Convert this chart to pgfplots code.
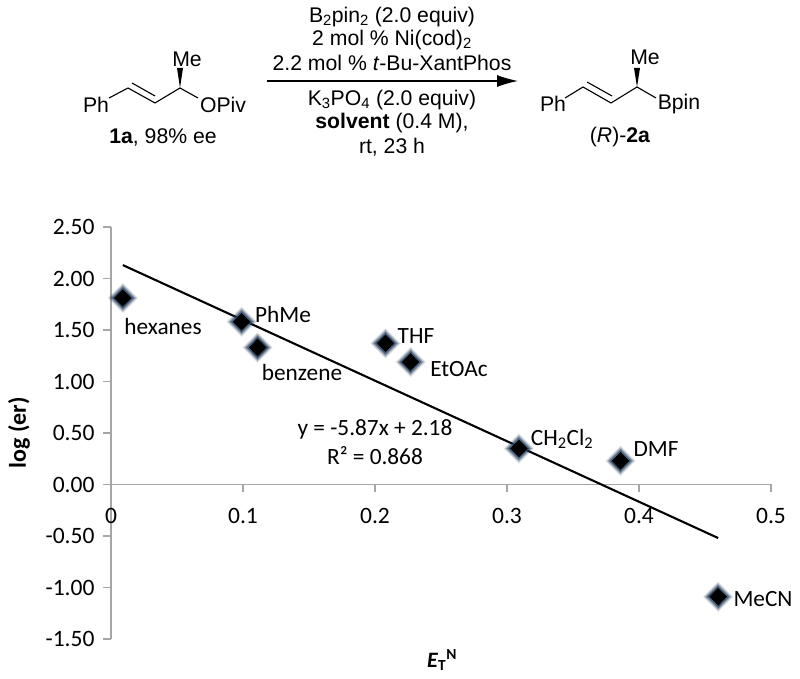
\documentclass[border=0pt]{standalone}
\usepackage{fontspec}
\setmainfont{Carlito}
\newfontfamily\hel{Liberation Sans}
\usepackage{pgfplots}
\pgfplotsset{compat=1.18}
\usetikzlibrary{arrows.meta}
\definecolor{axgray}{RGB}{166,166,166}
\definecolor{glow}{RGB}{60,100,150}
\newcommand{\sch}[3]{\node[font=\hel\fontsize{21.2}{23}\selectfont,inner sep=0pt,anchor=center] at ({#1},{679-#2}) {#3};}
\newcommand{\pt}[2]{({#1},{679-#2})}
\pgfplotstableread{
x y
0.009 1.81
0.099 1.58
0.111 1.33
0.208 1.37
0.227 1.19
0.309 0.35
0.386 0.23
0.460 -1.09
}\solvents
\begin{document}
\begin{tikzpicture}[x=1pt,y=1pt]
\path (0,0) rectangle (800,679);
\begin{axis}[
  at={(111pt,40pt)},anchor=south west,
  scale only axis,width=660pt,height=412pt,
  xmin=0,xmax=0.5,ymin=-1.5,ymax=2.5,
  axis x line=middle,axis y line=left,
  axis line style={-,axgray,line width=1.6pt},
  tick style={axgray,line width=1.6pt},
  major tick length=8pt,tick align=outside,
  hide obscured x ticks=false,hide obscured y ticks=false,
  xtick={0,0.1,0.2,0.3,0.4,0.5},
  xticklabels={0,0.1,0.2,0.3,0.4,0.5},
  ytick={-1.5,-1,-0.5,0,0.5,1,1.5,2,2.5},
  yticklabels={-1.50,-1.00,-0.50,0.00,0.50,1.00,1.50,2.00,2.50},
  tick label style={font=\fontsize{23.5}{26}\selectfont},
  xticklabel style={yshift=-12pt},
  yticklabel style={xshift=-5pt},
  clip=false,
]
\addplot[only marks,mark=diamond*,mark size=15pt,mark options={xscale=1.33,draw=none,fill=glow,opacity=0.07}] table[x=x,y=y] {\solvents};
\addplot[only marks,mark=diamond*,mark size=14pt,mark options={xscale=1.33,draw=none,fill=glow,opacity=0.12}] table[x=x,y=y] {\solvents};
\addplot[only marks,mark=diamond*,mark size=13pt,mark options={xscale=1.33,draw=none,fill=glow,opacity=0.18}] table[x=x,y=y] {\solvents};
\addplot[only marks,mark=diamond*,mark size=12pt,mark options={xscale=1.33,draw=none,fill=glow,opacity=0.25}] table[x=x,y=y] {\solvents};
\addplot[only marks,mark=diamond*,mark size=11pt,mark options={xscale=1.33,draw=none,fill=glow,opacity=0.35}] table[x=x,y=y] {\solvents};
\addplot[only marks,mark=diamond*,mark size=10pt,mark options={xscale=1.33,draw=none,fill=glow,opacity=0.5}] table[x=x,y=y] {\solvents};
\addplot[only marks,mark=diamond*,mark size=8.5pt,mark options={xscale=1.33,draw=none,fill=black}] table[x=x,y=y] {\solvents};
\addplot[black,line width=2.1pt,no marks] coordinates {(0.009,2.13) (0.460,-0.52)};
\end{axis}
% chart labels (image pixel coordinates)
\begin{scope}[every node/.style={font=\fontsize{23.3}{26}\selectfont,inner sep=0pt,anchor=center}]
\node at \pt{163}{327} {hexanes};
\node at \pt{283}{314} {PhMe};
\node at \pt{302}{372} {benzene};
\node at \pt{416}{336} {THF};
\node at \pt{459}{369} {EtOAc};
\node at \pt{375}{429} {y = -5.87x + 2.18};
\node at \pt{375}{456} {R² = 0.868};
\node at \pt{562}{439} {CH\textsubscript{2}Cl\textsubscript{2}};
\node at \pt{656}{449} {DMF};
\node at \pt{763}{599} {MeCN};
\node[font=\fontsize{22}{24}\selectfont] at \pt{442}{660} {\textbf{\textit{E}}\textsubscript{\textbf{T}}\textsuperscript{\textbf{N}}};
\node[rotate=90,font=\fontsize{24}{26}\selectfont] at \pt{19}{433} {\textbf{log (er)}};
\end{scope}
% reaction scheme
\sch{392}{17}{B\textsubscript{2}pin\textsubscript{2} (2.0 equiv)}
\sch{392}{40}{2 mol \% Ni(cod)\textsubscript{2}}
\sch{392}{63}{2.2 mol \% \textit{t}-Bu-XantPhos}
\sch{392}{100}{K\textsubscript{3}PO\textsubscript{4} (2.0 equiv)}
\sch{392}{123}{\textbf{solvent} (0.4 M),}
\sch{392}{147}{rt, 23 h}
\draw[black,line width=1.2pt,-{Latex[length=21pt,width=12pt]}] \pt{267}{81} -- \pt{518}{81};
% substrate
\sch{96}{105}{Ph}
\sch{223}{105}{OPiv}
\sch{187}{59}{Me}
\sch{163}{137}{\textbf{1a}, 98\% ee}
\draw[line width=1.1pt] \pt{109}{98} -- \pt{128}{88} -- \pt{155}{103} -- \pt{180}{88} -- \pt{198}{98};
\draw[line width=1.1pt] \pt{132}{83} -- \pt{155}{96};
\fill \pt{180}{88} -- \pt{177}{68} -- \pt{183}{68} -- cycle;
% product
\sch{553}{104}{Ph}
\sch{679}{104}{Bpin}
\sch{645}{57}{Me}
\sch{620}{137}{(\textit{R})-\textbf{2a}}
\draw[line width=1.1pt] \pt{565}{98} -- \pt{583}{87} -- \pt{611}{103} -- \pt{637}{87} -- \pt{656}{98};
\draw[line width=1.1pt] \pt{587}{82} -- \pt{612}{96};
\fill \pt{637}{87} -- \pt{634}{68} -- \pt{640}{68} -- cycle;
\end{tikzpicture}
\end{document}
